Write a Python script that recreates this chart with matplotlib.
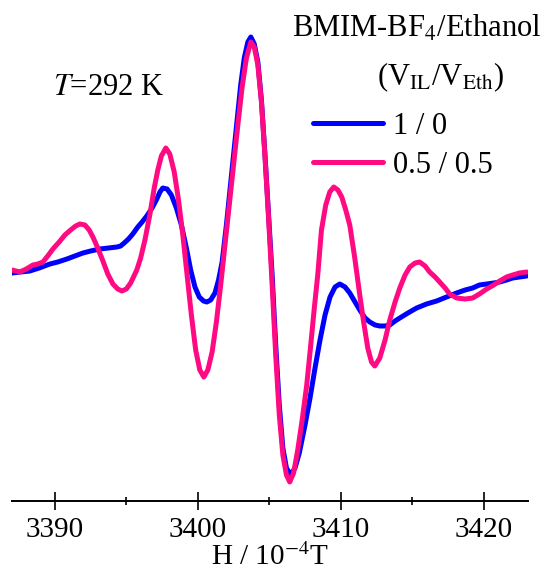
import numpy as np
import matplotlib
matplotlib.use('Agg')
import matplotlib.pyplot as plt
from matplotlib.ticker import MultipleLocator

# EPR spectra, field in 10^-4 T, signal in arbitrary units
h_pure = [3387.0, 3387.6, 3388.25, 3388.9, 3389.65, 3390.2, 3390.84, 3391.4, 3391.96, 3392.5,
          3393.15, 3393.75, 3394.34, 3394.6, 3394.85, 3395.15, 3395.45, 3395.8, 3396.1, 3396.43,
          3396.8, 3397.13, 3397.35, 3397.55, 3397.85, 3398.15, 3398.5, 3398.85, 3399.2, 3399.5,
          3399.8, 3400.1, 3400.4, 3400.63, 3400.9, 3401.2, 3401.45, 3401.7, 3402.0, 3402.25,
          3402.5, 3402.75, 3403.0, 3403.25, 3403.5, 3403.71, 3403.95, 3404.2, 3404.45, 3404.7,
          3404.95, 3405.2, 3405.45, 3405.7, 3405.95, 3406.2, 3406.5, 3406.8, 3407.1, 3407.5,
          3407.85, 3408.2, 3408.55, 3408.9, 3409.25, 3409.6, 3409.93, 3410.3, 3410.63, 3411.0,
          3411.33, 3411.7, 3412.03, 3412.4, 3412.73, 3413.1, 3413.43, 3413.8, 3414.13, 3414.7,
          3415.31, 3416.0, 3416.71, 3417.4, 3418.11, 3418.7, 3419.23, 3419.7, 3420.21, 3420.7,
          3421.12, 3421.6, 3422.03, 3422.5, 3423.01]
epr_pure = [-3, -2, -1, 2, 6, 8, 11, 14, 17, 19,
            21, 22, 23, 24, 27, 31, 36, 43, 48, 54,
            62, 71, 78, 82, 81, 75, 62, 45, 22, 0,
            -17, -27, -31, -32, -30, -23, -10, 8, 45, 80,
            115, 150, 185, 212, 228, 233, 226, 208, 170, 115,
            55, -5, -75, -135, -178, -198, -205, -198, -183, -155,
            -128, -98, -70, -45, -27, -17, -14, -17, -23, -32,
            -40, -48, -52, -55, -56, -56, -55, -51, -48, -43,
            -38, -34, -31, -27, -23, -20, -18, -15, -14, -13,
            -12, -10, -8, -7, -6]

h_mix = [3387.0, 3387.55, 3388.0, 3388.46, 3388.8, 3389.16, 3389.5, 3389.86, 3390.3, 3390.7,
         3391.1, 3391.45, 3391.75, 3392.1, 3392.4, 3392.66, 3393.0, 3393.36, 3393.7, 3394.06,
         3394.4, 3394.69, 3395.0, 3395.3, 3395.73, 3396.0, 3396.3, 3396.64, 3396.95, 3397.2,
         3397.45, 3397.76, 3398.04, 3398.35, 3398.65, 3398.95, 3399.25, 3399.55, 3399.85, 3400.14,
         3400.42, 3400.7, 3401.0, 3401.3, 3401.6, 3401.9, 3402.2, 3402.5, 3402.8, 3403.1,
         3403.4, 3403.71, 3403.95, 3404.2, 3404.45, 3404.7, 3404.95, 3405.2, 3405.45, 3405.7,
         3405.95, 3406.2, 3406.43, 3406.7, 3406.99, 3407.3, 3407.62, 3407.9, 3408.15, 3408.39,
         3408.65, 3408.95, 3409.23, 3409.51, 3409.8, 3410.07, 3410.35, 3410.63, 3410.98, 3411.33,
         3411.6, 3411.89, 3412.15, 3412.38, 3412.73, 3413.1, 3413.43, 3413.8, 3414.13, 3414.5,
         3414.83, 3415.2, 3415.52, 3415.9, 3416.22, 3416.6, 3416.92, 3417.3, 3417.62, 3418.11,
         3418.7, 3419.23, 3419.7, 3420.21, 3420.7, 3421.12, 3421.6, 3422.03, 3422.5, 3423.01]
epr_mix = [0, -2, 1, 5, 6, 8, 14, 21, 28, 35,
           40, 44, 46, 45, 40, 33, 22, 9, -4, -14,
           -19, -21, -19, -13, 0, 12, 30, 55, 82, 100,
           114, 122, 116, 98, 70, 35, -5, -45, -80, -100,
           -107, -100, -82, -52, -15, 25, 65, 105, 145, 183,
           212, 228, 223, 205, 168, 113, 52, -15, -85, -145,
           -185, -205, -212, -203, -180, -150, -115, -75, -38, -5,
           40, 65, 78, 83, 80, 73, 60, 45, 12, -25,
           -52, -78, -92, -96, -88, -70, -50, -32, -18, -5,
           3, 7, 8, 4, -2, -7, -12, -18, -24, -28,
           -29, -28, -24, -19, -15, -11, -7, -5, -3, -2]

labels = ['1 / 0', '0.5 / 0.5']
colors = ['#0000ff', '#ff0a82']
field_ticks = [3390, 3400, 3410, 3420]

serif = ['Liberation Serif', 'DejaVu Serif']
plt.rcParams['font.family'] = serif
plt.rcParams['mathtext.fontset'] = 'stix'

W, H = 541, 576
fig = plt.figure(figsize=(W / 100, H / 100), dpi=100)
ax = fig.add_axes([12 / W, 1 - 501 / H, 516 / W, 501 / H])

style = dict(lw=3.6, solid_capstyle='round', solid_joinstyle='round')
ax.plot(h_pure, epr_pure, color=colors[0], label=labels[0], **style)
ax.plot(h_mix, epr_mix, color=colors[1], label=labels[1], **style)

ax.set_xlim(3387.0, 3423.1)
ax.set_ylim(-231, 270)

for s in ['top', 'left', 'right']:
    ax.spines[s].set_visible(False)
ax.spines['bottom'].set_linewidth(1.4)
ax.set_yticks([])
ax.set_xticks(field_ticks)
ax.set_xticklabels([str(t) for t in field_ticks], family=serif, fontsize=21)
ax.xaxis.set_minor_locator(MultipleLocator(5))
ax.tick_params(axis='x', which='major', direction='inout', length=13, width=1.2, pad=5)
ax.tick_params(axis='x', which='minor', direction='inout', length=6, width=1.2)
ax.set_xlabel(r'H / 10$^{-4}$T', fontsize=21, labelpad=0)

fig.text(53 / W, 1 - 95 / H, r'$T$=292 K', fontsize=22, ha='left', va='baseline')
fig.text(292 / W, 1 - 37 / H, r'BMIM-BF$_4$/Ethanol', fontsize=22, ha='left', va='baseline')
fig.text(377 / W, 1 - 85 / H, r'(V$_{\mathrm{IL}}$/V$_{\mathrm{Eth}}$)', fontsize=22,
         ha='left', va='baseline')

ax.legend(loc='upper left', bbox_to_anchor=(313 / W, 1 - 112 / H), bbox_transform=fig.transFigure,
          frameon=False, fontsize=22, handlelength=2.3, handletextpad=0.33,
          labelspacing=0.33, borderpad=0, borderaxespad=0)

fig.savefig('out.png', dpi=100)
